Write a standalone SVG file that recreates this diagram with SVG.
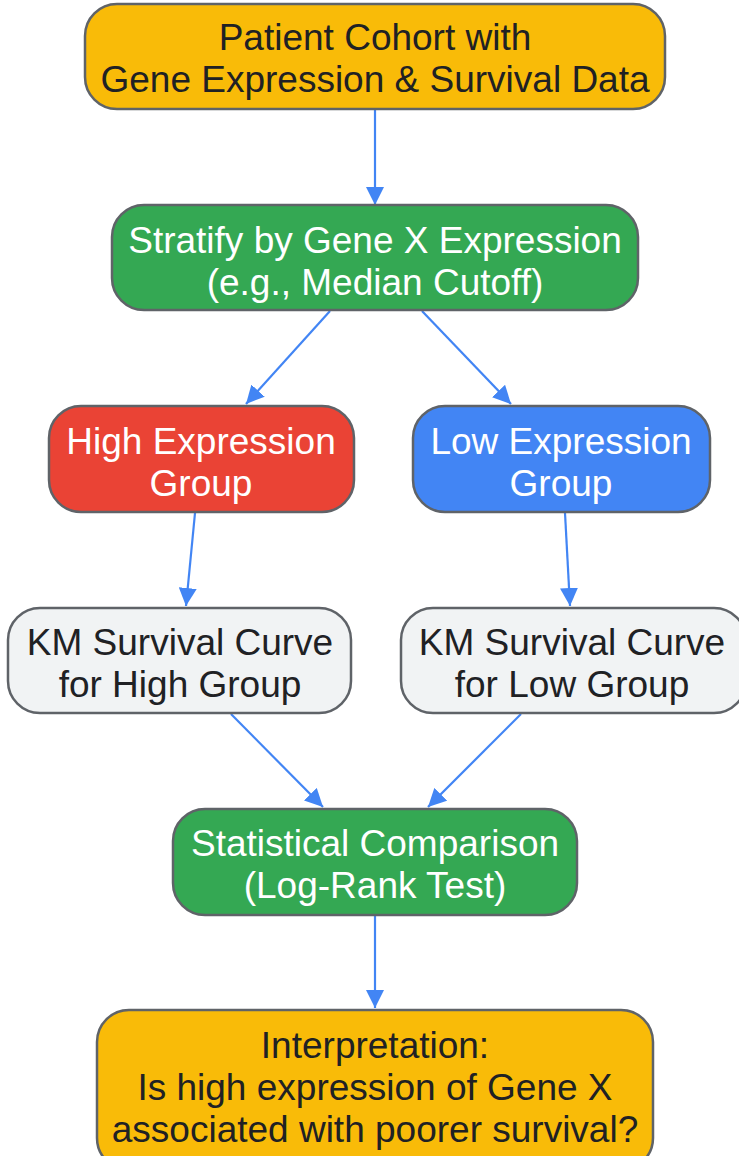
<svg xmlns="http://www.w3.org/2000/svg" width="739" height="1156" viewBox="0 0 739 1156">
<defs>
<style>
.box{stroke:#5f6368;stroke-width:2.5}
.yellow{fill:#F9BB08}
.green{fill:#34A853}
.red{fill:#EA4335}
.blue{fill:#4285F4}
.gray{fill:#F1F3F4}
text{font-family:"Liberation Sans",Arial,sans-serif;font-size:37px;text-anchor:middle}
.dark{fill:#202124}
.light{fill:#ffffff}
.edge{stroke:#4285F4;stroke-width:2.2;fill:none;marker-end:url(#arr)}
</style>
<marker id="arr" markerUnits="userSpaceOnUse" markerWidth="18" markerHeight="18" refX="16" refY="8" orient="auto" viewBox="0 0 16 16">
<path d="M0,0 L16,8 L0,16 z" fill="#4285F4"/>
</marker>
</defs>
<rect width="739" height="1156" fill="#ffffff"/>
<g id="connectors">
<line class="edge" x1="375" y1="110" x2="375" y2="205"/>
<line class="edge" x1="330" y1="311" x2="246" y2="404"/>
<line class="edge" x1="422" y1="311" x2="511" y2="404"/>
<line class="edge" x1="195" y1="513" x2="186" y2="606"/>
<line class="edge" x1="565" y1="513" x2="570" y2="606"/>
<line class="edge" x1="231" y1="714" x2="323" y2="807"/>
<line class="edge" x1="521" y1="714" x2="428" y2="807"/>
<line class="edge" x1="375" y1="916" x2="375" y2="1008"/>
</g>
<g id="node-cohort">
<rect class="box yellow" x="85" y="4" width="580" height="105" rx="32"/>
<text class="dark" x="375" y="50">Patient Cohort with</text>
<text class="dark" x="375" y="92">Gene Expression &amp; Survival Data</text>
</g>
<g id="node-stratify">
<rect class="box green" x="112" y="205" width="526" height="105" rx="32"/>
<text class="light" x="375" y="253">Stratify by Gene X Expression</text>
<text class="light" x="375" y="295">(e.g., Median Cutoff)</text>
</g>
<g id="node-high">
<rect class="box red" x="49" y="406" width="305" height="106" rx="32"/>
<text class="light" x="201" y="454">High Expression</text>
<text class="light" x="201" y="496">Group</text>
</g>
<g id="node-low">
<rect class="box blue" x="413" y="406" width="297" height="106" rx="32"/>
<text class="light" x="561" y="454">Low Expression</text>
<text class="light" x="561" y="496">Group</text>
</g>
<g id="node-km-high">
<rect class="box gray" x="8" y="608" width="343" height="105" rx="32"/>
<text class="dark" x="180" y="655">KM Survival Curve</text>
<text class="dark" x="180" y="697">for High Group</text>
</g>
<g id="node-km-low">
<rect class="box gray" x="401" y="608" width="345" height="105" rx="32"/>
<text class="dark" x="572" y="655">KM Survival Curve</text>
<text class="dark" x="572" y="697">for Low Group</text>
</g>
<g id="node-stat">
<rect class="box green" x="173" y="809" width="404" height="106" rx="32"/>
<text class="light" x="375" y="856">Statistical Comparison</text>
<text class="light" x="375" y="898">(Log-Rank Test)</text>
</g>
<g id="node-interp">
<rect class="box yellow" x="97" y="1010" width="556" height="160" rx="32"/>
<text class="dark" x="375" y="1058">Interpretation:</text>
<text class="dark" x="375" y="1100">Is high expression of Gene X</text>
<text class="dark" x="375" y="1142">associated with poorer survival?</text>
</g>
</svg>
